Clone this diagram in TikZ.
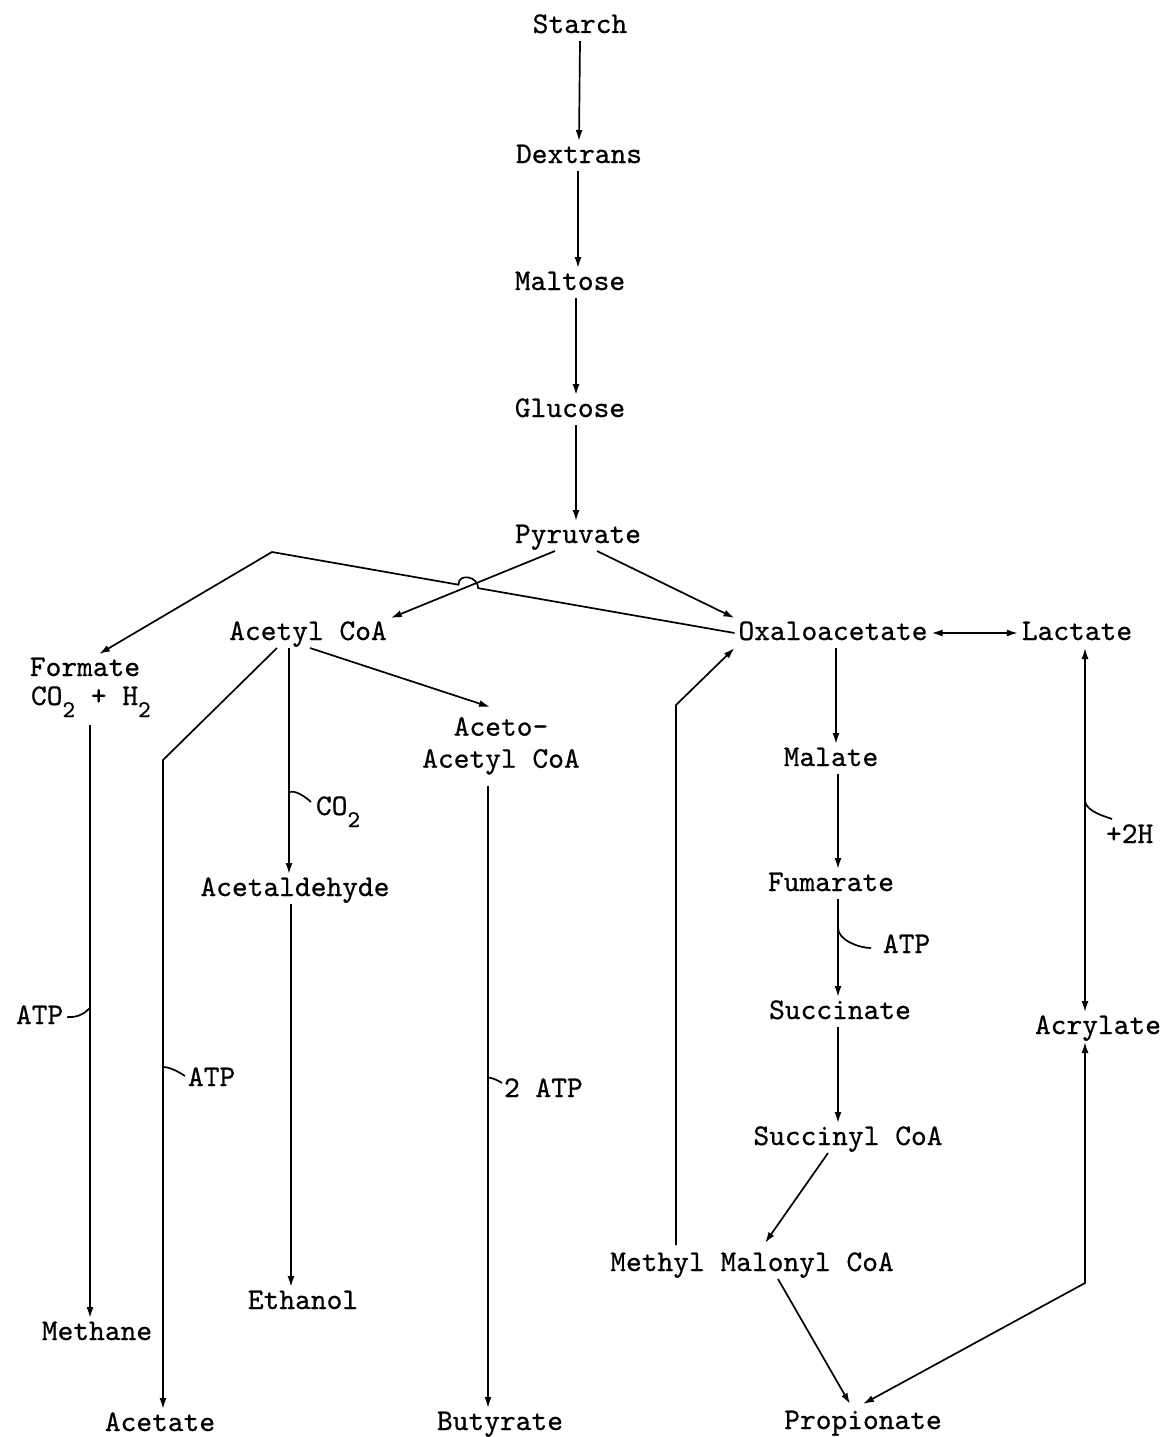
\documentclass[tikz,border=0pt]{standalone}
\usepackage{fontspec}
\usetikzlibrary{arrows.meta, calc, positioning}

\newfontfamily\typefont{lmmono10-regular.otf}[FakeBold=0.6]
\newcommand{\pathfont}{\fontsize{30}{32}\selectfont\typefont}
\newcommand{\subnum}[1]{\raisebox{-12pt}{\fontsize{24}{24}\selectfont #1}}

\begin{document}
\begin{tikzpicture}[x=1pt, y=-1pt, line width=1.7pt,
  chembase/.style={font=\pathfont, inner sep=0pt, outer sep=4pt},
  chem/.style={chembase, text height=18pt, text depth=4pt, anchor=base},
  arr/.style={-{Latex[length=11pt,width=7pt]}},
  biarr/.style={{Latex[length=11pt,width=7pt]}-{Latex[length=11pt,width=7pt]}}]

\useasboundingbox (0,0) rectangle (1166,1437);

% Main chain from starch down to pyruvate
\node[chem] (starch)   at (580,33)  {Starch};
\node[chem] (dextrans) at (579,163) {Dextrans};
\node[chem] (maltose)  at (570,290) {Maltose};
\node[chem] (glucose)  at (570,417) {Glucose};
\node[chem] (pyruvate) at (578,543) {Pyruvate};

% Second row
\node[chem] (acetyl)  at (308,640)  {Acetyl CoA};
\node[chem] (oxalo)   at (833,640)  {Oxaloacetate};
\node[chem] (lactate) at (1077,640) {Lactate};
\node[chem] (formate) at (85,676)   {Formate};
\node[chem, anchor=base west] (fgas) at (27,705) {CO\subnum{2} + H\subnum{2}};
\node[chembase, align=center, anchor=north] (acetoac) at (501,713) {Aceto-\\Acetyl CoA};

% Right branch towards propionate
\node[chem] (malate)    at (831,766)  {Malate};
\node[chem] (fumarate)  at (831,891)  {Fumarate};
\node[chem] (succinate) at (840,1019) {Succinate};
\node[chem] (succinyl)  at (848,1145) {Succinyl CoA};
\node[chem] (methylmal) at (752,1271) {Methyl Malonyl CoA};
\node[chem] (acrylate)  at (1098,1034) {Acrylate};

% End products
\node[chem] (acetald)    at (295,896)  {Acetaldehyde};
\node[chem] (ethanol)    at (303,1309) {Ethanol};
\node[chem] (methane)    at (97,1340)  {Methane};
\node[chem] (acetate)    at (160,1431) {Acetate};
\node[chem] (butyrate)   at (500,1430) {Butyrate};
\node[chem] (propionate) at (863,1429) {Propionate};

% Side labels
\node[chem, anchor=base west] (atpm)   at (12,1024)  {ATP};
\node[chem, anchor=base west] (atpa)   at (184,1086) {ATP};
\node[chem, anchor=base west] (co2lab) at (312,815)  {CO\subnum{2}};
\node[chem, anchor=base west] (atpb)   at (500,1097) {2 ATP};
\node[chem, anchor=base west] (atpf)   at (879,953)  {ATP};
\node[chem, anchor=base west] (plus2h) at (1102,843) {+2H};

% Corner points of the bent connectors
\coordinate (bendF)  at (272,552);
\coordinate (acbend) at (163,760);
\coordinate (mmbend) at (676,705);
\coordinate (acrbend) at (1085,1283);
\coordinate (fgbot) at (90,725);
\coordinate (oxw) at (oxalo.west);
\coordinate (acne) at (acetyl.north east);
\coordinate (pyrleft) at ($(pyruvate.south)+(-23,0)$);
\coordinate (cross) at (intersection of bendF--oxw and pyrleft--acne);
\coordinate (hopL) at ($(cross)!10pt!(bendF)$);
\coordinate (hopR) at ($(cross)!10pt!(oxw)$);

% Starch to pyruvate
\draw[arr] (starch.south) -- (dextrans.north);
\draw[arr] ($(dextrans.south)+(-1,0)$) -- ($(maltose.north)+(8,0)$);
\draw[arr] ($(maltose.south)+(6,0)$) -- ($(glucose.north)+(6,0)$);
\draw[arr] ($(glucose.south)+(6,0)$) -- ($(pyruvate.north)+(-2,0)$);

% Pyruvate split
\draw[arr] (pyrleft) -- (acne);
\draw[arr] ($(pyruvate.south)+(19,0)$) -- (oxalo.north west);

% Oxaloacetate back to formate, hopping over the acetyl CoA line
\draw[arr] (oxw) -- (hopR) .. controls +(0,-12) and +(0,-12) .. (hopL)
  -- (bendF) -- ($(formate.north)+(14,0)$);

% Formate to methane
\draw[arr] (fgbot) -- coordinate[pos=0.477] (tickm) (fgbot |- methane.north);
\draw (atpm.east) .. controls +(12,1) and +(-4,4) .. (tickm);

% Acetyl CoA branches
\draw[arr] ($(acetyl.south)+(-31,0)$) -- (acbend) -- coordinate[pos=0.473] (ticka) ($(acetate.north)+(3,0)$);
\draw (ticka) .. controls +(7,0) and +(-6,-4) .. ($(atpa.west)+(1,-3)$);
\draw[arr] ($(acetyl.south)+(-19,0)$) -- coordinate[pos=0.64] (tickc) ($(acetald.north)+(-6,0)$);
\draw (tickc) .. controls +(5,-4) and +(-4,-4) .. ($(co2lab.west)+(-1,-6)$);
\draw[arr] ($(acetyl.south)+(2,0)$) -- ($(acetoac.north)+(-11,-6)$);

% Acetaldehyde to ethanol
\draw[arr] ($(acetald.south)+(-4,0)$) -- ($(ethanol.north)+(-12,0)$);

% Aceto-acetyl CoA to butyrate
\draw[arr] ($(acetoac.south)+(-13,7)$) -- coordinate[pos=0.469] (tickb) ($(butyrate.north)+(-12,0)$);
\draw (tickb) .. controls +(4,0) and +(-3,-2) .. ($(atpb.west)+(2,-7)$);

% Oxaloacetate, lactate and acrylate
\draw[biarr] (oxalo.east) -- (lactate.west);
\draw[biarr] ($(lactate.south)+(8,0)$) -- coordinate[pos=0.423] (tickl) ($(acrylate.north)+(-13,0)$);
\draw (tickl) .. controls +(3,10) and +(-8,-3) .. ($(plus2h.north west)+(10,-2)$);

% Succinate pathway
\draw[arr] ($(oxalo.south)+(3,0)$) -- ($(malate.north)+(5,0)$);
\draw[arr] ($(malate.south)+(7,0)$) -- ($(fumarate.north)+(7,0)$);
\draw[arr] ($(fumarate.south)+(7,0)$) -- coordinate[pos=0.296] (tickf) ($(succinate.north)+(-2,0)$);
\draw (tickf) .. controls +(0,12) and +(-12,0) .. ($(atpf.west)+(-8,2)$);
\draw[arr] ($(succinate.south)+(-2,0)$) -- ($(succinyl.north)+(-10,0)$);
\draw[arr] ($(succinyl.south)+(-20,0)$) -- ($(methylmal.north)+(13,-6)$);

% Methyl malonyl CoA back up to oxaloacetate
\draw[arr] ($(methylmal.north)+(-76,-4)$) -- (mmbend) -- (oxalo.south west);

% Into propionate
\draw[arr] ($(methylmal.south)+(26,0)$) -- ($(propionate.north)+(-13,-3)$);
\draw[biarr] ($(acrylate.south)+(-13,0)$) -- (acrbend) -- ($(propionate.north)+(0,-3)$);

\end{tikzpicture}
\end{document}
